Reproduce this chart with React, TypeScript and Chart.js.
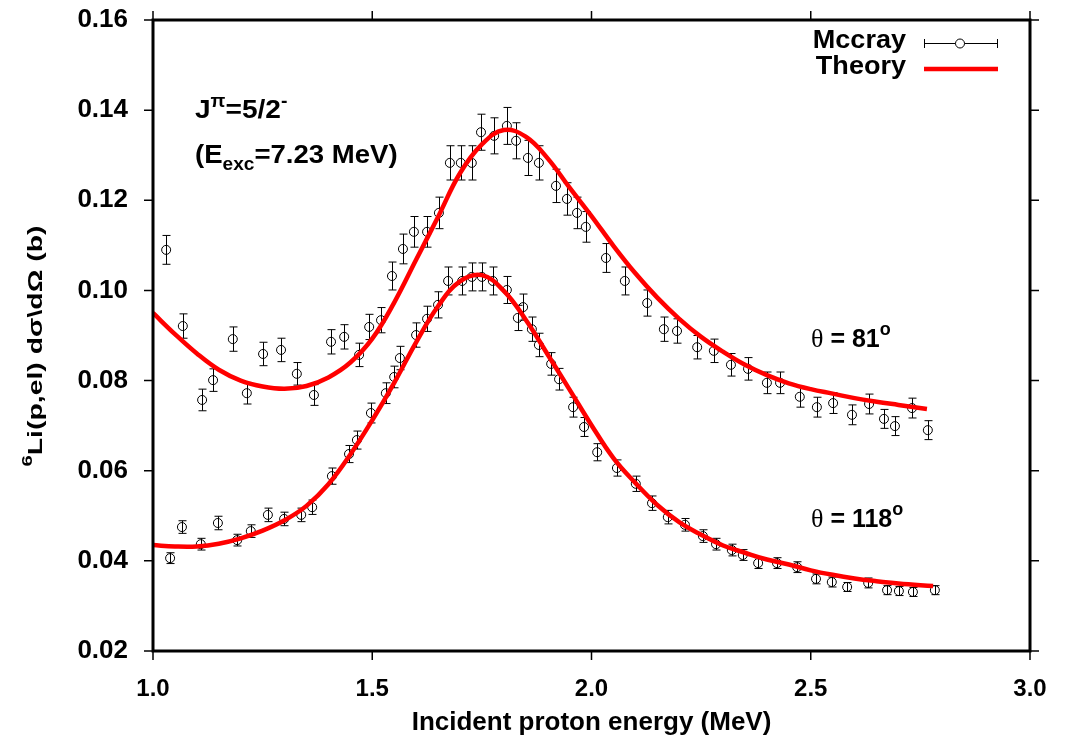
import React, { useEffect, useRef } from "react";
import { Chart, registerables } from "chart.js";

Chart.register(...registerables);

// ---------- data ----------
const X_TICKS = [1.0, 1.5, 2.0, 2.5, 3.0];
const Y_TICKS = [0.02, 0.04, 0.06, 0.08, 0.1, 0.12, 0.14, 0.16];

// Mccray data, theta = 81 deg
const mccray81X = [1.030, 1.068, 1.112, 1.137, 1.182, 1.214, 1.251, 1.292, 1.328, 1.367, 1.406, 1.436, 1.470, 1.493, 1.520, 1.545, 1.570, 1.595, 1.625, 1.652, 1.677, 1.702, 1.727, 1.748, 1.778, 1.807, 1.828, 1.855, 1.880, 1.919, 1.944, 1.967, 1.987, 2.033, 2.076, 2.127, 2.165, 2.195, 2.241, 2.279, 2.318, 2.357, 2.400, 2.430, 2.475, 2.514, 2.551, 2.594, 2.633, 2.667, 2.692, 2.731, 2.767];
const mccray81Y = [0.1090, 0.0921, 0.0757, 0.0801, 0.0892, 0.0772, 0.0859, 0.0868, 0.0815, 0.0768, 0.0886, 0.0897, 0.0857, 0.0919, 0.0934, 0.1032, 0.1092, 0.1130, 0.1130, 0.1172, 0.1283, 0.1283, 0.1283, 0.1351, 0.1343, 0.1365, 0.1332, 0.1294, 0.1283, 0.1232, 0.1203, 0.1172, 0.1141, 0.1072, 0.1021, 0.0972, 0.0914, 0.0910, 0.0874, 0.0866, 0.0835, 0.0826, 0.0795, 0.0795, 0.0764, 0.0741, 0.0750, 0.0724, 0.0748, 0.0715, 0.0699, 0.0739, 0.0690];
const mccray81Err = [0.0032, 0.0027, 0.0024, 0.0025, 0.0027, 0.0024, 0.0026, 0.0026, 0.0025, 0.0023, 0.0027, 0.0027, 0.0026, 0.0028, 0.0028, 0.0031, 0.0033, 0.0034, 0.0034, 0.0035, 0.0038, 0.0038, 0.0038, 0.0040, 0.0040, 0.0041, 0.0040, 0.0039, 0.0038, 0.0037, 0.0036, 0.0035, 0.0034, 0.0032, 0.0031, 0.0029, 0.0027, 0.0027, 0.0026, 0.0026, 0.0025, 0.0025, 0.0024, 0.0024, 0.0023, 0.0022, 0.0023, 0.0022, 0.0022, 0.0021, 0.0021, 0.0022, 0.0021];

// Mccray data, theta = 118 deg
const mccray118X = [1.039, 1.066, 1.109, 1.148, 1.192, 1.223, 1.262, 1.299, 1.338, 1.363, 1.408, 1.447, 1.465, 1.497, 1.531, 1.550, 1.563, 1.600, 1.625, 1.650, 1.673, 1.705, 1.727, 1.750, 1.775, 1.807, 1.832, 1.844, 1.864, 1.880, 1.908, 1.926, 1.958, 1.983, 2.013, 2.058, 2.101, 2.138, 2.174, 2.213, 2.254, 2.284, 2.320, 2.345, 2.380, 2.423, 2.469, 2.512, 2.548, 2.583, 2.631, 2.674, 2.701, 2.733, 2.783];
const mccray118Y = [0.0406, 0.0475, 0.0437, 0.0484, 0.0446, 0.0466, 0.0502, 0.0493, 0.0502, 0.0519, 0.0588, 0.0637, 0.0668, 0.0728, 0.0772, 0.0808, 0.0850, 0.0901, 0.0937, 0.0968, 0.1021, 0.1021, 0.1030, 0.1030, 0.1021, 0.1001, 0.0939, 0.0963, 0.0914, 0.0879, 0.0837, 0.0803, 0.0741, 0.0697, 0.0641, 0.0606, 0.0571, 0.0528, 0.0497, 0.0480, 0.0455, 0.0437, 0.0424, 0.0413, 0.0395, 0.0395, 0.0386, 0.0360, 0.0353, 0.0342, 0.0351, 0.0335, 0.0333, 0.0331, 0.0335];
const mccray118Err = [0.0012, 0.0014, 0.0013, 0.0015, 0.0013, 0.0014, 0.0015, 0.0015, 0.0015, 0.0016, 0.0018, 0.0019, 0.0020, 0.0022, 0.0023, 0.0024, 0.0026, 0.0027, 0.0028, 0.0029, 0.0031, 0.0031, 0.0031, 0.0031, 0.0031, 0.0030, 0.0028, 0.0029, 0.0027, 0.0026, 0.0025, 0.0024, 0.0022, 0.0021, 0.0019, 0.0018, 0.0017, 0.0016, 0.0015, 0.0014, 0.0014, 0.0013, 0.0013, 0.0012, 0.0012, 0.0012, 0.0012, 0.0011, 0.0011, 0.0010, 0.0011, 0.0010, 0.0010, 0.0010, 0.0010];

// Theory curves
const theory81X = [1.00, 1.05, 1.10, 1.15, 1.20, 1.25, 1.30, 1.35, 1.40, 1.45, 1.50, 1.55, 1.60, 1.65, 1.70, 1.75, 1.80, 1.85, 1.90, 1.95, 2.00, 2.05, 2.10, 2.15, 2.20, 2.25, 2.30, 2.35, 2.40, 2.45, 2.50, 2.55, 2.60, 2.65, 2.70, 2.765];
const theory81Y = [0.0950, 0.0903, 0.0860, 0.0824, 0.0800, 0.0787, 0.0782, 0.0788, 0.0807, 0.0840, 0.0893, 0.0973, 0.1068, 0.1163, 0.1260, 0.1324, 0.1356, 0.1341, 0.1293, 0.1228, 0.1165, 0.1099, 0.1038, 0.0984, 0.0937, 0.0897, 0.0864, 0.0835, 0.0812, 0.0794, 0.0781, 0.0771, 0.0761, 0.0753, 0.0746, 0.0737];
const theory118X = [1.00, 1.05, 1.10, 1.15, 1.20, 1.25, 1.30, 1.35, 1.40, 1.45, 1.50, 1.55, 1.60, 1.65, 1.70, 1.75, 1.80, 1.85, 1.90, 1.95, 2.00, 2.05, 2.10, 2.15, 2.20, 2.25, 2.30, 2.35, 2.40, 2.45, 2.50, 2.55, 2.60, 2.65, 2.70, 2.779];
const theory118Y = [0.0435, 0.0432, 0.0432, 0.0438, 0.0450, 0.0467, 0.0490, 0.0522, 0.0570, 0.0636, 0.0712, 0.0795, 0.0885, 0.0965, 0.1020, 0.1034, 0.0999, 0.0935, 0.0858, 0.0780, 0.0701, 0.0628, 0.0573, 0.0524, 0.0486, 0.0458, 0.0434, 0.0418, 0.0403, 0.0392, 0.0379, 0.0369, 0.0361, 0.0355, 0.0350, 0.0344];

const SANS = '"Liberation Sans", Arial, Helvetica, sans-serif';
const SERIF = '"Liberation Serif", "Times New Roman", serif';
const RED = "#ff0000";

type Seg = { t: string; font: string; dy?: number };

function segWidth(ctx: CanvasRenderingContext2D, segs: Seg[]) {
  let w = 0;
  for (const s of segs) {
    ctx.font = s.font;
    w += ctx.measureText(s.t).width;
  }
  return w;
}

function drawSegs(ctx: CanvasRenderingContext2D, segs: Seg[], x: number, y: number, sx = 1, align: "left" | "right" | "center" = "left") {
  const w = segWidth(ctx, segs) * sx;
  let start = x;
  if (align === "right") start = x - w;
  if (align === "center") start = x - w / 2;
  ctx.save();
  ctx.translate(start, y);
  ctx.scale(sx, 1);
  ctx.textAlign = "left";
  ctx.textBaseline = "alphabetic";
  ctx.fillStyle = "#000";
  let cx = 0;
  for (const s of segs) {
    ctx.font = s.font;
    ctx.fillText(s.t, cx, s.dy || 0);
    cx += ctx.measureText(s.t).width;
  }
  ctx.restore();
}

const gnuPlugin = {
  id: "gnuplotLook",
  beforeDatasetsDraw(chart: any) {
    const ctx: CanvasRenderingContext2D = chart.ctx;
    const xs = chart.scales.x;
    const ys = chart.scales.y;
    ctx.save();
    ctx.strokeStyle = "#000";
    ctx.lineWidth = 1;
    chart.data.datasets.forEach((ds: any) => {
      if (!ds.errors) return;
      ds.data.forEach((p: any, i: number) => {
        const e = ds.errors[i];
        const px = Math.round(xs.getPixelForValue(p.x)) + 0.5;
        const y1 = ys.getPixelForValue(p.y - e);
        const y2 = ys.getPixelForValue(p.y + e);
        ctx.beginPath();
        ctx.moveTo(px, y1);
        ctx.lineTo(px, y2);
        ctx.moveTo(px - 4, y1);
        ctx.lineTo(px + 4, y1);
        ctx.moveTo(px - 4, y2);
        ctx.lineTo(px + 4, y2);
        ctx.stroke();
      });
    });
    ctx.restore();
  },
  afterDraw(chart: any) {
    const ctx: CanvasRenderingContext2D = chart.ctx;
    const { left, right, top, bottom } = chart.chartArea;
    const xs = chart.scales.x;
    const ys = chart.scales.y;
    ctx.save();
    // ticks (outward on all four sides)
    ctx.strokeStyle = "#000";
    ctx.lineWidth = 1.5;
    ctx.beginPath();
    X_TICKS.forEach((v) => {
      const px = xs.getPixelForValue(v);
      ctx.moveTo(px, bottom);
      ctx.lineTo(px, bottom + 9);
      ctx.moveTo(px, top);
      ctx.lineTo(px, top - 9);
    });
    Y_TICKS.forEach((v) => {
      const py = ys.getPixelForValue(v);
      ctx.moveTo(left, py);
      ctx.lineTo(left - 9, py);
      ctx.moveTo(right, py);
      ctx.lineTo(right + 9, py);
    });
    ctx.stroke();
    // frame
    ctx.lineWidth = 3;
    ctx.strokeRect(left, top, right - left, bottom - top);

    // legend
    drawSegs(ctx, [{ t: "Mccray", font: `bold 26px ${SANS}` }], 906, 48, 1.04, "right");
    drawSegs(ctx, [{ t: "Theory", font: `bold 26px ${SANS}` }], 906, 74, 1.04, "right");
    ctx.lineWidth = 1;
    ctx.beginPath();
    ctx.moveTo(924, 43.5);
    ctx.lineTo(998, 43.5);
    ctx.moveTo(924.5, 39);
    ctx.lineTo(924.5, 48);
    ctx.moveTo(997.5, 39);
    ctx.lineTo(997.5, 48);
    ctx.stroke();
    ctx.beginPath();
    ctx.fillStyle = "#fff";
    ctx.arc(960, 43.5, 4.5, 0, Math.PI * 2);
    ctx.fill();
    ctx.stroke();
    ctx.strokeStyle = RED;
    ctx.lineWidth = 4.5;
    ctx.beginPath();
    ctx.moveTo(924, 69);
    ctx.lineTo(998, 69);
    ctx.stroke();

    // annotations
    const big = `bold 26px ${SANS}`;
    const small = `bold 18px ${SANS}`;
    drawSegs(ctx, [
      { t: "J", font: big },
      { t: "\u03C0", font: small, dy: -11 },
      { t: "=5/2", font: big },
      { t: "-", font: small, dy: -11 },
    ], 195, 118, 1.08);
    drawSegs(ctx, [
      { t: "(E", font: big },
      { t: "exc", font: small, dy: 7 },
      { t: "=7.23 MeV)", font: big },
    ], 195, 163, 1.06);
    drawSegs(ctx, [
      { t: "\u03B8", font: `26px ${SERIF}` },
      { t: " = 81", font: `bold 25px ${SANS}` },
      { t: "o", font: small, dy: -12 },
    ], 811, 347, 1);
    drawSegs(ctx, [
      { t: "\u03B8", font: `26px ${SERIF}` },
      { t: " = 118", font: `bold 25px ${SANS}` },
      { t: "o", font: small, dy: -12 },
    ], 811, 527, 1);

    // y axis title (rotated, with superscript 6)
    const ySegs: Seg[] = [
      { t: "6", font: `bold 15px ${SANS}`, dy: -10 },
      { t: "Li(p,el) d\u03C3\\d\u03A9 (b)", font: `bold 21px ${SANS}` },
    ];
    const w = segWidth(ctx, ySegs);
    const sx = 241 / w;
    ctx.translate(42, 346);
    ctx.rotate(-Math.PI / 2);
    drawSegs(ctx, ySegs, 0, 0, sx, "center");
    ctx.restore();
  },
};

export default function App() {
  const ref = useRef<HTMLCanvasElement>(null);
  useEffect(() => {
    document.body.style.margin = "0";
    const canvas = ref.current;
    if (!canvas) return;
    const pts = (xs: number[], ys: number[]) => xs.map((x, i) => ({ x, y: ys[i] }));
    const chart = new Chart(canvas, {
      type: "scatter",
      data: {
        datasets: [
          {
            label: "Theory (81)",
            data: pts(theory81X, theory81Y),
            showLine: true,
            borderColor: RED,
            borderWidth: 4.5,
            pointRadius: 0,
            tension: 0.4,
            fill: false,
          } as any,
          {
            label: "Theory (118)",
            data: pts(theory118X, theory118Y),
            showLine: true,
            borderColor: RED,
            borderWidth: 4.5,
            pointRadius: 0,
            tension: 0.4,
            fill: false,
          } as any,
          {
            label: "Mccray (81)",
            data: pts(mccray81X, mccray81Y),
            errors: mccray81Err,
            showLine: false,
            pointRadius: 4.5,
            pointBorderWidth: 1,
            pointBorderColor: "#000",
            pointBackgroundColor: "rgba(0,0,0,0)",
          } as any,
          {
            label: "Mccray (118)",
            data: pts(mccray118X, mccray118Y),
            errors: mccray118Err,
            showLine: false,
            pointRadius: 4.5,
            pointBorderWidth: 1,
            pointBorderColor: "#000",
            pointBackgroundColor: "rgba(0,0,0,0)",
          } as any,
        ],
      },
      options: {
        animation: false,
        responsive: false,
        devicePixelRatio: 1,
        events: [],
        layout: { padding: { top: 20, right: 1079 - 1030, left: 0, bottom: 0 } },
        plugins: { legend: { display: false }, tooltip: { enabled: false } },
        scales: {
          x: {
            type: "linear",
            min: 1,
            max: 3,
            afterFit: (s: any) => {
              s.height = 90;
              s.paddingLeft = 0;
              s.paddingRight = 0;
            },
            afterBuildTicks: (s: any) => {
              s.ticks = X_TICKS.map((v) => ({ value: v }));
            },
            ticks: {
              color: "#000",
              font: { family: SANS, size: 24, weight: "bold" },
              padding: 24,
              maxRotation: 0,
              autoSkip: false,
              callback: (v: any) => Number(v).toFixed(1),
            },
            grid: { display: false, drawTicks: false },
            border: { display: false },
            title: {
              display: true,
              text: "Incident proton energy (MeV)",
              color: "#000",
              font: { family: SANS, size: 26, weight: "bold" },
              padding: { top: 0, bottom: 3 },
            },
          },
          y: {
            type: "linear",
            min: 0.02,
            max: 0.16,
            afterFit: (s: any) => {
              s.width = 153;
              s.paddingTop = 0;
              s.paddingBottom = 0;
            },
            afterBuildTicks: (s: any) => {
              s.ticks = Y_TICKS.map((v) => ({ value: v }));
            },
            ticks: {
              color: "#000",
              font: { family: SANS, size: 26, weight: "bold" },
              padding: 25,
              autoSkip: false,
              callback: (v: any) => Number(v).toFixed(2),
            },
            grid: { display: false, drawTicks: false },
            border: { display: false },
          },
        },
      },
      plugins: [gnuPlugin],
    } as any);
    return () => chart.destroy();
  }, []);
  return <canvas ref={ref} width={1079} height={741} style={{ display: "block" }} />;
}
